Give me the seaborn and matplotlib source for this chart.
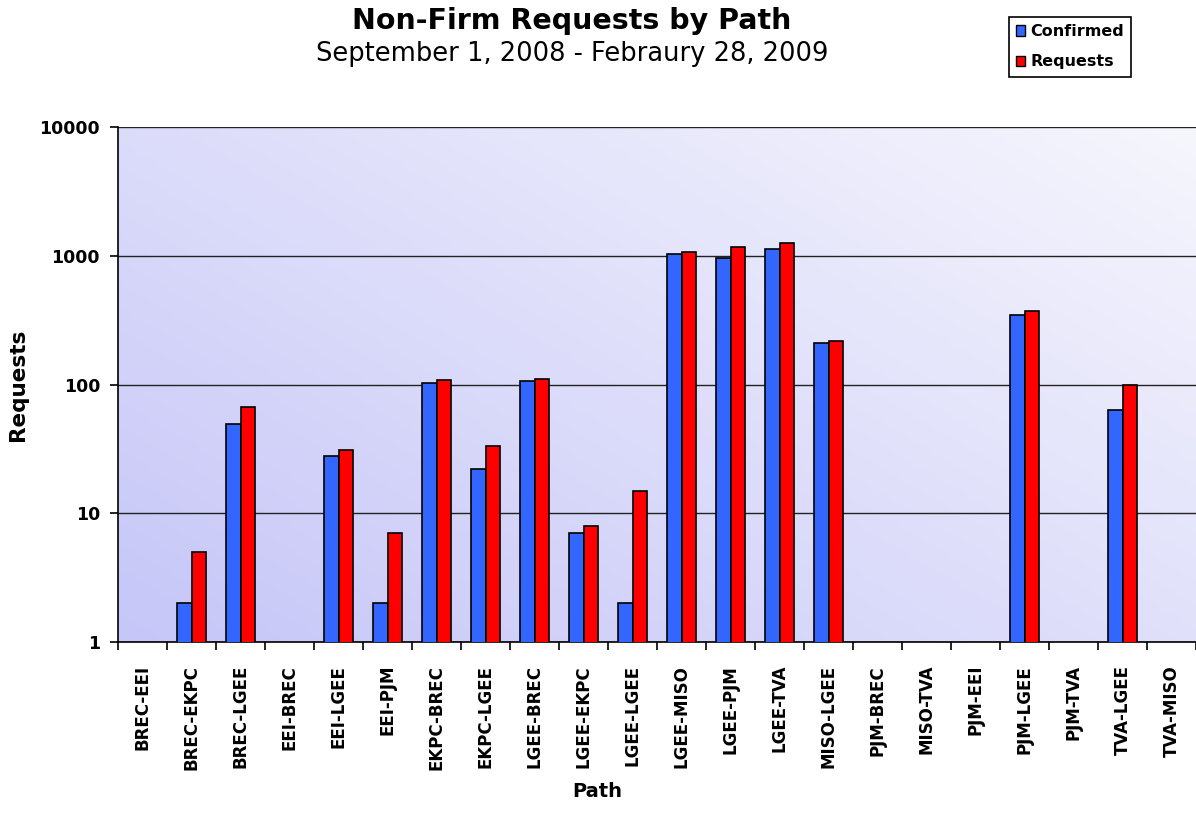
import numpy as np
import pandas as pd
import matplotlib
matplotlib.use("Agg")
import matplotlib.pyplot as plt
import seaborn as sns
from matplotlib.patches import Patch
from matplotlib.colors import LinearSegmentedColormap

paths = ["BREC-EEI", "BREC-EKPC", "BREC-LGEE", "EEI-BREC", "EEI-LGEE", "EEI-PJM",
         "EKPC-BREC", "EKPC-LGEE", "LGEE-BREC", "LGEE-EKPC", "LGEE-LGEE", "LGEE-MISO",
         "LGEE-PJM", "LGEE-TVA", "MISO-LGEE", "PJM-BREC", "MISO-TVA", "PJM-EEI",
         "PJM-LGEE", "PJM-TVA", "TVA-LGEE", "TVA-MISO"]
confirmed = [0, 2, 49, 0, 28, 2, 103, 22, 106, 7, 2, 1030,
             955, 1130, 210, 0, 0, 0, 345, 0, 63, 0]
requests = [0, 5, 67, 0, 31, 7, 108, 33, 110, 8, 15, 1070,
            1170, 1255, 218, 0, 0, 0, 372, 0, 100, 0]
series = ["Confirmed", "Requests"]
colors = ["#3366FF", "#FF0000"]

df = pd.DataFrame({"Path": paths * 2,
                   "Value": confirmed + requests,
                   "Series": ["Confirmed"] * len(paths) + ["Requests"] * len(paths)})
df["Value"] = df["Value"].replace(0, np.nan)

fig = plt.figure(figsize=(11.96, 8.13), dpi=100)
pos = [118 / 1196, 1 - 642 / 813, 1 - 118 / 1196, (642 - 127) / 813]

# gradient background behind the plot area
bg = fig.add_axes(pos, zorder=0)
cmap = LinearSegmentedColormap.from_list("bg", ["#c6c6f8", "#f6f6fd"])
xx, yy = np.meshgrid(np.linspace(0, 1, 200), np.linspace(0, 1, 200))
bg.imshow((xx * 0.55 + yy * 0.45), cmap=cmap, origin="lower", aspect="auto", extent=[0, 1, 0, 1])
bg.axis("off")

ax = fig.add_axes(pos, zorder=1)
ax.set_facecolor("none")
sns.barplot(data=df, x="Path", y="Value", hue="Series", hue_order=series,
            palette=colors, saturation=1, width=0.58, edgecolor="black", linewidth=1.2,
            ax=ax, legend=False, zorder=3)
ax.set_yscale("log")
ax.set_ylim(1, 10000)
ax.set_xlim(-0.5, len(paths) - 0.5)
ax.set_yticks([1, 10, 100, 1000, 10000])
ax.set_yticklabels(["1", "10", "100", "1000", "10000"], fontsize=12.5, fontweight="bold")
ax.yaxis.set_minor_locator(matplotlib.ticker.NullLocator())
ax.grid(axis="y", color="#222222", linewidth=1, zorder=1)
ax.set_axisbelow(True)

ax.set_xticks(range(len(paths)))
ax.set_xticklabels(paths, rotation=90, fontsize=12, fontweight="bold")
ax.set_xticks(np.arange(-0.5, len(paths)), minor=True)
ax.tick_params(axis="x", which="major", length=0, pad=16.5)
ax.tick_params(axis="x", which="minor", length=6, width=1.2)
ax.tick_params(axis="y", which="major", length=6, width=1.2, pad=7)

for s in ["top", "right"]:
    ax.spines[s].set_visible(False)
ax.spines["left"].set_linewidth(1.2)
ax.spines["bottom"].set_linewidth(1.2)

ax.set_xlabel("Path", fontsize=14, fontweight="bold")
ax.set_ylabel("Requests", fontsize=15.5, fontweight="bold")
ax.xaxis.set_label_coords((597 - 118) / 1078, (642 - 782) / 515)
ax.yaxis.set_label_coords((28 - 118) / 1078, 0.5)

fig.text(572 / 1196, 1 - 21 / 813, "Non-Firm Requests by Path", ha="center", va="center",
         fontsize=20.5, fontweight="bold")
fig.text(572 / 1196, 1 - 54 / 813, "September 1, 2008 - Febraury 28, 2009", ha="center",
         va="center", fontsize=18.5)

handles = [Patch(facecolor=c, edgecolor="black") for c in colors]
leg = fig.legend(handles, series, loc="upper right", bbox_to_anchor=(1131 / 1196, 1 - 17 / 813),
                 fancybox=False, edgecolor="black", framealpha=1, handlelength=0.6,
                 handleheight=0.6, handletextpad=0.3, borderpad=0.45, labelspacing=0.95,
                 borderaxespad=0, prop={"weight": "bold", "size": 11.5})
leg.get_frame().set_linewidth(1.2)

fig.savefig("out.png", dpi=100)
plt.close()
